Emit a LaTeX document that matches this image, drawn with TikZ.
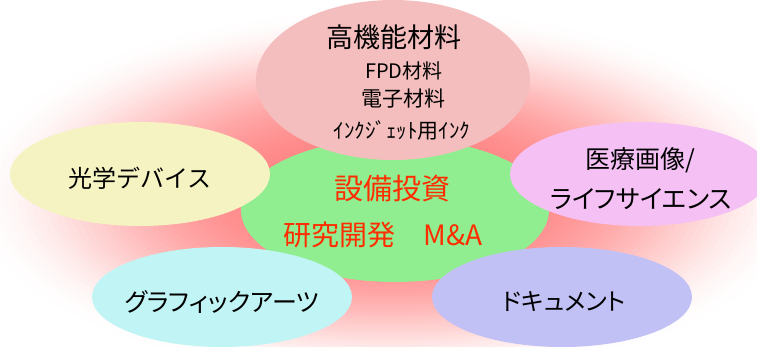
\documentclass[tikz,border=0pt]{standalone}
\usepackage{fontspec}
\usetikzlibrary{shapes.geometric}
\newfontfamily\jp{Noto Sans CJK JP}
\newfontfamily\jpp[RawFeature=+palt]{Noto Sans CJK JP}
\definecolor{cpink}{RGB}{245,190,190}
\definecolor{cgreen}{RGB}{144,238,144}
\definecolor{cyellow}{RGB}{245,243,193}
\definecolor{ccyan}{RGB}{193,245,245}
\definecolor{cpurple}{RGB}{245,193,245}
\definecolor{cblue}{RGB}{193,193,245}
\definecolor{cred}{RGB}{255,45,0}
\begin{document}
\begin{tikzpicture}[x=1pt,y=-1pt,
  blob/.style={ellipse,draw=none,inner sep=0pt,outer sep=0pt},
  txt/.style={inner sep=0pt,anchor=center,text=black},
  redtxt/.style={inner sep=0pt,anchor=center,text=cred}]
\useasboundingbox (0,0) rectangle (757,347);
\clip (0,0) rectangle (757,347);
\fill[white] (0,0) rectangle (757,347);
% soft red glow
\foreach \k in {0,...,59}{
  \pgfmathsetmacro\rr{1-\k/60}
  \pgfmathsetmacro\ii{50*(1-\rr*\rr*\rr)^2.27}
  \fill[red!\ii] (390,195) ellipse [x radius={430*\rr}, y radius={190*\rr}];
}
% ellipses
\node[blob,fill=cgreen,minimum width=308pt,minimum height=144pt] (green) at (395,210) {};
\node[blob,fill=cpink,minimum width=274pt,minimum height=160pt] (pink) at (393,80) {};
\node[blob,fill=cyellow,minimum width=260pt,minimum height=104pt] (yellow) at (140,174) {};
\node[blob,fill=cpurple,minimum width=260pt,minimum height=104pt] (purple) at (640,174) {};
\node[blob,fill=ccyan,minimum width=260pt,minimum height=100pt] (cyan) at (222,297) {};
\node[blob,fill=cblue,minimum width=260pt,minimum height=100pt] (blue) at (562,297) {};
% texts
\node[txt] (t1) at (394,37) {\jp\fontsize{27}{30}\selectfont 高機能材料};
\node[txt] (t2) at (404,71) {\jp\fontsize{20}{24}\selectfont FPD材料};
\node[txt] (t3) at (403,99) {\jp\fontsize{21}{24}\selectfont 電子材料};
\node[txt] (t4) at (402,130) {\jp\fontsize{21}{24}\selectfont ｲﾝｸｼﾞｪｯﾄ用ｲﾝｸ};
\node[redtxt] (c1) at (392,189) {\jp\fontsize{29}{32}\selectfont 設備投資};
\node[redtxt] (c2) at (383,235) {\jp\fontsize{28}{32}\selectfont 研究開発　M\&A};
\node[txt] (y1) at (140,178) {\jp\fontsize{24}{28}\selectfont 光学デバイス};
\node[txt] (p1) at (640,160) {\jp\fontsize{25}{28}\selectfont 医療画像/};
\node[txt] (p2) at (641,199) {\jpp\fontsize{25.5}{28}\selectfont ライフサイエンス};
\node[txt] (g1) at (222,302) {\jpp\fontsize{25}{28}\selectfont グラフィックアーツ};
\node[txt] (b1) at (564,302) {\jpp\fontsize{24}{28}\selectfont ドキュメント};
\end{tikzpicture}
\end{document}
